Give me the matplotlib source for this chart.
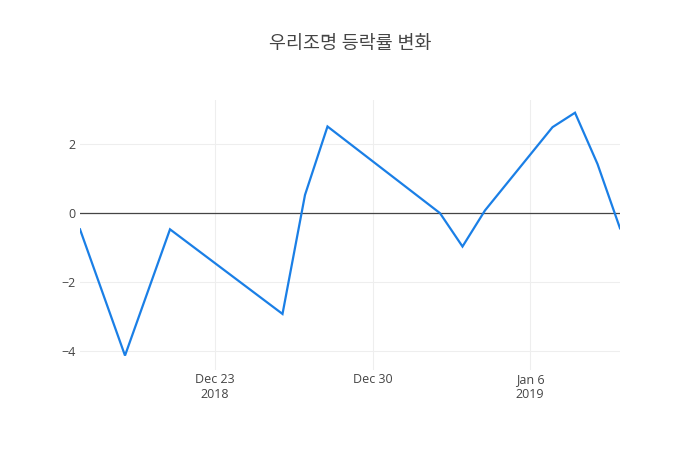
import matplotlib
matplotlib.use("Agg")
import matplotlib.pyplot as plt
import pandas as pd

# 우리조명 daily change (%)
dates = pd.to_datetime([
    "2018-12-17", "2018-12-19", "2018-12-21", "2018-12-26", "2018-12-27",
    "2018-12-28", "2019-01-02", "2019-01-03", "2019-01-04", "2019-01-07",
    "2019-01-08", "2019-01-09", "2019-01-10",
])
changes = [-0.47, -4.14, -0.47, -2.93, 0.53, 2.52, 0.0, -0.97, 0.08, 2.50, 2.92, 1.43, -0.44]

tick_dates = pd.to_datetime(["2018-12-23", "2018-12-30", "2019-01-06"])
tick_labels = ["Dec 23\n2018", "Dec 30", "Jan 6\n2019"]
y_ticks = [-4, -2, 0, 2]

plt.rcParams["font.family"] = ["Open Sans", "Noto Sans CJK KR", "DejaVu Sans"]
text_color = "#444444"

fig = plt.figure(figsize=(7, 4.5), dpi=100)
ax = fig.add_axes([80 / 700, 80 / 450, 540 / 700, 270 / 450])

ax.plot(dates, changes, color="#1a7fe6", linewidth=1.6, solid_joinstyle="miter", zorder=3)
ax.axhline(0, color="#444444", linewidth=0.9, zorder=2)

ax.set_xlim(dates[0], dates[-1])
ax.set_ylim(-4.56, 3.29)
ax.set_xticks(tick_dates)
ax.set_xticklabels(tick_labels, linespacing=1.25)
ax.set_yticks(y_ticks)
ax.set_yticklabels(["\u22124", "\u22122", "0", "2"])

ax.grid(True, color="#eeeeee", linewidth=0.8, zorder=0)
ax.tick_params(length=0, labelsize=9, colors=text_color)
ax.tick_params(axis="y", pad=3)
ax.tick_params(axis="x", pad=2)
for s in ax.spines.values():
    s.set_visible(False)

fig.text(0.5, 1 - 44 / 450, "우리조명 등락률 변화", ha="center", va="center",
         fontsize=13.3, color=text_color)

fig.savefig("out.png", dpi=100)
